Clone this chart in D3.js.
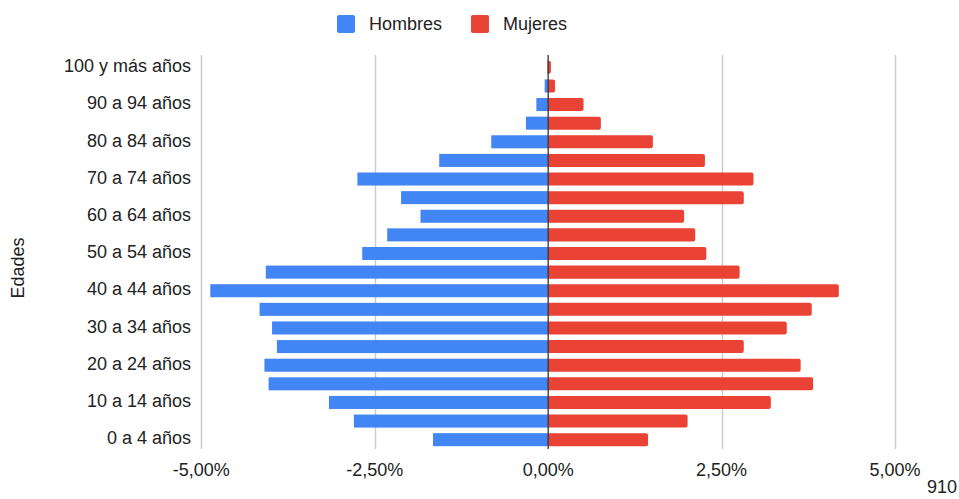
<!DOCTYPE html>
<html>
<head>
<meta charset="utf-8">
<script src="https://cdn.jsdelivr.net/npm/d3@7"></script>
<style>
  body { margin: 0; background: #fff; }
  text { font-family: "Liberation Sans", Arial, sans-serif; fill: #222; }
</style>
</head>
<body>
<div id="plot"></div>
<script>
// Age groups, bottom to top
const ageGroups = ["0 a 4 años", "5 a 9 años", "10 a 14 años", "15 a 19 años", "20 a 24 años",
  "25 a 29 años", "30 a 34 años", "35 a 39 años", "40 a 44 años", "45 a 49 años",
  "50 a 54 años", "55 a 59 años", "60 a 64 años", "65 a 69 años", "70 a 74 años",
  "75 a 79 años", "80 a 84 años", "85 a 89 años", "90 a 94 años", "95 a 99 años",
  "100 y más años"];

// Percent of total population
const hombres = [1.66, 2.80, 3.16, 4.03, 4.09, 3.91, 3.98, 4.16, 4.87, 4.07,
  2.68, 2.32, 1.84, 2.12, 2.75, 1.57, 0.82, 0.32, 0.17, 0.05, 0.01];
const mujeres = [1.44, 2.01, 3.21, 3.82, 3.64, 2.82, 3.44, 3.80, 4.19, 2.76,
  2.28, 2.12, 1.96, 2.82, 2.96, 2.26, 1.51, 0.76, 0.51, 0.10, 0.04];

const tickValues = [-5, -2.5, 0, 2.5, 5];
const seriesNames = ["Hombres", "Mujeres"];
const seriesColors = ["#4285f4", "#ea4335"];

const W = 959, H = 499;

const svg = d3.select("#plot")
  .append("svg")
  .attr("width", W)
  .attr("height", H);

const x = d3.scaleLinear()
  .domain([-5, 5])
  .range([201.3, 895]);

const y = d3.scaleBand()
  .domain(ageGroups.slice().reverse())
  .range([58, 449])
  .paddingInner(0.3)
  .paddingOuter(0.15);

const locale = d3.formatLocale({ decimal: ",", thousands: ".", grouping: [3], currency: ["", "€"], minus: "-" });
const fmt = locale.format(".2f");

// Gridlines
svg.append("g")
  .selectAll("line")
  .data(tickValues.filter(d => d !== 0))
  .enter()
  .append("line")
  .attr("x1", d => Math.round(x(d)) + 0.5)
  .attr("x2", d => Math.round(x(d)) + 0.5)
  .attr("y1", 55)
  .attr("y2", 449)
  .attr("stroke", "#cccccc")
  .attr("stroke-width", 1.5);

// X tick labels
svg.append("g")
  .selectAll("text")
  .data(tickValues)
  .enter()
  .append("text")
  .attr("x", d => x(d))
  .attr("y", 471)
  .attr("text-anchor", "middle")
  .attr("dominant-baseline", "middle")
  .style("font-size", "18px")
  .text(d => fmt(d) + "%");

// Rounded end on the right side only
function rightRounded(x0, y0, w, h, r) {
  r = Math.min(r, w);
  return `M${x0},${y0}H${x0 + w - r}Q${x0 + w},${y0} ${x0 + w},${y0 + r}` +
    `V${y0 + h - r}Q${x0 + w},${y0 + h} ${x0 + w - r},${y0 + h}H${x0}Z`;
}

// Male bars (left)
svg.append("g")
  .selectAll("rect")
  .data(ageGroups)
  .enter()
  .append("rect")
  .attr("x", (d, i) => x(-hombres[i]))
  .attr("y", d => y(d))
  .attr("width", (d, i) => x(0) - x(-hombres[i]))
  .attr("height", y.bandwidth())
  .attr("fill", seriesColors[0]);

// Female bars (right)
svg.append("g")
  .selectAll("path")
  .data(ageGroups)
  .enter()
  .append("path")
  .attr("d", (d, i) => rightRounded(x(0), y(d), x(mujeres[i]) - x(0), y.bandwidth(), 2))
  .attr("fill", seriesColors[1]);

// Zero line
svg.append("line")
  .attr("x1", x(0))
  .attr("x2", x(0))
  .attr("y1", 55)
  .attr("y2", 449)
  .attr("stroke", "#333")
  .attr("stroke-width", 1.3);

// Y labels, every other group
svg.append("g")
  .selectAll("text")
  .data(ageGroups.filter((d, i) => i % 2 === 0))
  .enter()
  .append("text")
  .attr("x", 191)
  .attr("y", d => y(d) + y.bandwidth() / 2)
  .attr("text-anchor", "end")
  .attr("dominant-baseline", "middle")
  .style("font-size", "18px")
  .text(d => d);

// Y axis title
svg.append("text")
  .attr("transform", "translate(19, 268) rotate(-90)")
  .attr("text-anchor", "middle")
  .attr("dominant-baseline", "middle")
  .style("font-size", "18px")
  .text("Edades");

// Legend
const legendX = [337, 471];
const legend = svg.append("g");
seriesNames.forEach((name, i) => {
  legend.append("rect")
    .attr("x", legendX[i])
    .attr("y", 15)
    .attr("width", 18)
    .attr("height", 18)
    .attr("rx", 2)
    .attr("fill", seriesColors[i]);
  legend.append("text")
    .attr("x", legendX[i] + 32)
    .attr("y", 25)
    .attr("dominant-baseline", "middle")
    .style("font-size", "18px")
    .text(name);
});

// Stray label at bottom right
svg.append("text")
  .attr("x", 957)
  .attr("y", 488)
  .attr("text-anchor", "end")
  .attr("dominant-baseline", "middle")
  .style("font-size", "18px")
  .text("910");
</script>
</body>
</html>
